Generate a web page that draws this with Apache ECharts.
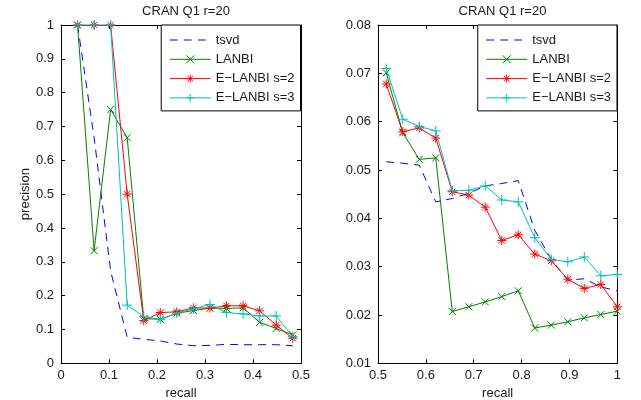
<!DOCTYPE html>
<html>
<head>
<meta charset="utf-8">
<script src="https://cdn.jsdelivr.net/npm/echarts@6/dist/echarts.min.js"></script>
<style>html,body{margin:0;padding:0;background:#fff}#c{width:641px;height:400px}</style>
</head>
<body>
<div id="c"></div>
<script>
var titleText = 'CRAN Q1 r=20';
var seriesNames = ['tsvd', 'LANBI', 'E\u2212LANBI s=2', 'E\u2212LANBI s=3'];

var recallLeft = [0.0345,0.069,0.1034,0.1379,0.1724,0.2069,0.2414,0.2759,0.3103,0.3448,0.3793,0.4138,0.4483,0.4828];
var tsvdLeft  = [1.0,0.667,0.273,0.077,0.071,0.066,0.057,0.052,0.053,0.056,0.055,0.055,0.055,0.052];
var lanbiLeft = [1.0,0.333,0.75,0.667,0.132,0.130,0.148,0.156,0.163,0.162,0.164,0.121,0.103,0.084];
var e2Left    = [1.0,1.0,1.0,0.5,0.126,0.150,0.152,0.164,0.163,0.170,0.170,0.155,0.113,0.074];
var e3Left    = [1.0,1.0,1.0,0.172,0.138,0.130,0.148,0.161,0.174,0.150,0.146,0.140,0.140,0.079];

var recallRight = [0.5172,0.5517,0.5862,0.6207,0.6552,0.6897,0.7241,0.7586,0.7931,0.8276,0.8621,0.8966,0.931,0.9655,1.0];
var tsvdRight  = [0.0517,0.0514,0.0510,0.0434,0.0441,0.0452,0.0467,0.0472,0.0478,0.0375,0.0315,0.0272,0.0275,0.0258,0.0250];
var lanbiRight = [0.0701,0.0577,0.0522,0.0525,0.0207,0.0217,0.0227,0.0238,0.0250,0.0173,0.0179,0.0186,0.0194,0.0201,0.0208];
var e2Right    = [0.0678,0.0579,0.0587,0.0566,0.0455,0.0448,0.0423,0.0354,0.0366,0.0326,0.0312,0.0274,0.0255,0.0263,0.0217];
var e3Right    = [0.0710,0.0605,0.0590,0.0581,0.0457,0.0458,0.0467,0.0438,0.0434,0.0360,0.0315,0.0310,0.0320,0.0281,0.0284];

function pairs(xs, ys){ return xs.map(function(x,i){ return [x, ys[i]]; }); }

var FONT = 'Liberation Sans';
var TXT = '#1a1a1a';
var colors = ['#0000ff', '#008000', '#ff0000', '#00bfbf'];
var symbols = [
  'none',
  'path://M0,0L10,10M10,0L0,10',
  'path://M5,0L5,10M0,5L10,5M1.5,1.5L8.5,8.5M8.5,1.5L1.5,8.5',
  'path://M5,0L5,10M0,5L10,5'
];
var symSizes = [0, 7, 9, 10];

function mkSeries(idx, xi, yi, xs, ys){
  return {
    name: seriesNames[idx], type: 'line', xAxisIndex: xi, yAxisIndex: yi,
    data: pairs(xs, ys), animation: false,
    symbol: symbols[idx], symbolSize: symSizes[idx], showSymbol: idx !== 0,
    lineStyle: { color: colors[idx], width: 1, type: idx === 0 ? [8, 6] : 'solid' },
    itemStyle: { color: colors[idx], borderColor: colors[idx], borderWidth: 1 },
    emphasis: { disabled: true }, z: 2 + idx
  };
}

function mainX(gi, min, max){
  return {
    type: 'value', gridIndex: gi, min: min, max: max, interval: 0.1, position: 'bottom',
    name: 'recall', nameLocation: 'middle', nameGap: 21,
    nameTextStyle: { fontFamily: FONT, fontSize: 13, color: TXT },
    axisLine: { show: true, onZero: false, lineStyle: { color: '#000', width: 1 } },
    axisTick: { show: true, inside: true, length: 4, lineStyle: { color: '#000' } },
    axisLabel: { fontFamily: FONT, fontSize: 13, color: TXT, margin: 6 },
    splitLine: { show: false }
  };
}
function boxX(gi, min, max){
  return {
    type: 'value', gridIndex: gi, min: min, max: max, interval: 0.1, position: 'top',
    axisLine: { show: true, onZero: false, lineStyle: { color: '#000', width: 1 } },
    axisTick: { show: true, inside: true, length: 4, lineStyle: { color: '#000' } },
    axisLabel: { show: false }, splitLine: { show: false }
  };
}
function mainY(gi, min, max, interval, named){
  var a = {
    type: 'value', gridIndex: gi, min: min, max: max, interval: interval, position: 'left',
    axisLine: { show: true, onZero: false, lineStyle: { color: '#000', width: 1 } },
    axisTick: { show: true, inside: true, length: 4, lineStyle: { color: '#000' } },
    axisLabel: { fontFamily: FONT, fontSize: 13, color: TXT, margin: 7 },
    splitLine: { show: false }
  };
  if (named) {
    a.name = 'precision'; a.nameLocation = 'middle'; a.nameGap = 27;
    a.nameTextStyle = { fontFamily: FONT, fontSize: 13, color: TXT };
  }
  return a;
}
function boxY(gi, min, max, interval){
  return {
    type: 'value', gridIndex: gi, min: min, max: max, interval: interval, position: 'right',
    axisLine: { show: true, onZero: false, lineStyle: { color: '#000', width: 1 } },
    axisTick: { show: true, inside: true, length: 4, lineStyle: { color: '#000' } },
    axisLabel: { show: false }, splitLine: { show: false }
  };
}
function mkLegend(right){
  return {
    orient: 'vertical', right: right, top: 25,
    data: seriesNames.map(function(n, i){
      return i === 0
        ? { name: n, itemStyle: { color: 'rgba(0,0,0,0)', borderColor: 'rgba(0,0,0,0)', borderWidth: 0 } }
        : { name: n };
    }),
    itemWidth: 41, itemHeight: 10, itemGap: 5.3, itemTextGap: 5,
    padding: [8, 6, 6, 8],
    lineStyle: { width: 1 },
    itemStyle: { borderWidth: 1 },
    backgroundColor: '#fff', borderColor: '#000', borderWidth: 1, borderRadius: 0,
    textStyle: { fontFamily: FONT, fontSize: 13, color: TXT, lineHeight: 14 },
    selectedMode: false
  };
}

var chart = echarts.init(document.getElementById('c'), null, { renderer: 'canvas' });
chart.setOption({
  animation: false,
  backgroundColor: '#fff',
  title: [
    { text: titleText, left: 181, top: 0, textAlign: 'center',
      textStyle: { fontFamily: FONT, fontSize: 13, fontWeight: 'normal', color: TXT } },
    { text: titleText, left: 497.5, top: 0, textAlign: 'center',
      textStyle: { fontFamily: FONT, fontSize: 13, fontWeight: 'normal', color: TXT } }
  ],
  legend: [ mkLegend(340.5), mkLegend(24) ],
  grid: [
    { left: 61, top: 25, width: 240, height: 338.3, containLabel: false, outerBoundsMode: 'none' },
    { left: 378, top: 25, width: 239.3, height: 338.3, containLabel: false, outerBoundsMode: 'none' }
  ],
  xAxis: [ mainX(0, 0, 0.5), mainX(1, 0.5, 1), boxX(0, 0, 0.5), boxX(1, 0.5, 1) ],
  yAxis: [ mainY(0, 0, 1, 0.1, true), mainY(1, 0.01, 0.08, 0.01, false),
           boxY(0, 0, 1, 0.1), boxY(1, 0.01, 0.08, 0.01) ],
  series: [
    mkSeries(0, 0, 0, recallLeft, tsvdLeft),
    mkSeries(1, 0, 0, recallLeft, lanbiLeft),
    mkSeries(2, 0, 0, recallLeft, e2Left),
    mkSeries(3, 0, 0, recallLeft, e3Left),
    mkSeries(0, 1, 1, recallRight, tsvdRight),
    mkSeries(1, 1, 1, recallRight, lanbiRight),
    mkSeries(2, 1, 1, recallRight, e2Right),
    mkSeries(3, 1, 1, recallRight, e3Right)
  ]
});
</script>
</body>
</html>
